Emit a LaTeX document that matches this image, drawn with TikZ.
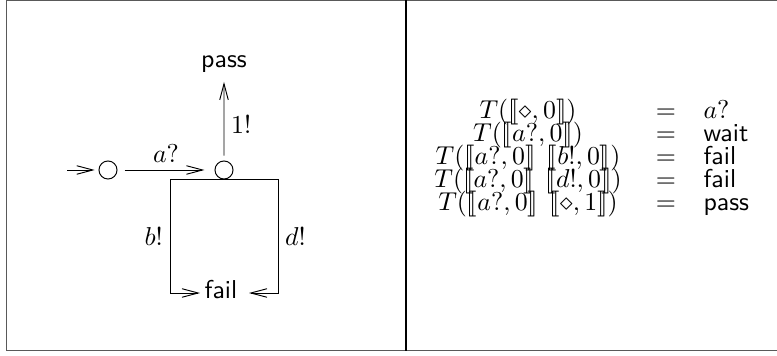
\documentclass[tikz,border=0pt]{standalone}
\usepackage{stmaryrd}
\usetikzlibrary{arrows.meta,calc}
\tikzset{
  state/.style={circle,draw,minimum size=9.5pt,inner sep=0pt,line width=0.5pt},
  arr/.style={-{Straight Barb[length=8.5pt,width=4.5pt]},line width=0.5pt},
  frameline/.style={line width=0.8pt,draw=black!65},
  divline/.style={line width=0.7pt,draw=black},
  txt/.style={scale=1.36,inner sep=2.5pt},
  lhs/.style={txt,anchor=base,inner sep=0pt},
  eqs/.style={txt,anchor=base,inner sep=0pt},
  rhs/.style={txt,anchor=base west,inner sep=0pt},
}
\begin{document}
\begin{tikzpicture}[x=0.5263pt,y=-0.5263pt]
\useasboundingbox (0,0) rectangle (777,356);
% frame
\draw[frameline] (777,0.5) -- (6.5,0.5) -- (6.5,350.5) -- (777,350.5);
\draw[divline] (406,0) -- (406,351);

% automaton
\coordinate (start) at (67,170);
\node[state] (s0) at (108,170) {};
\node[state] (s1) at (224,170) {};
\node[txt,anchor=base] (pass) at (224,68) {\textsf{pass}};
\node[txt,anchor=base,inner sep=0pt] (fail) at (221,299) {\textsf{fail}};
\coordinate (failL) at (200,293);
\coordinate (failR) at (249,293);

\draw[arr,shorten >=2pt] (start) -- (s0);
\draw[arr,shorten <=3.7pt,shorten >=5.3pt] (s0) -- node[txt,above]{$a?$} (s1);
\draw[arr,shorten <=2.6pt,shorten >=1pt] (s1) -- node[txt,pos=0.45,right]{$1!$} (pass);
\draw[arr] (s1.south) -- ++(-54,0) |- node[txt,pos=0.25,left]{$b!$} (failL);
\draw[arr] (s1.south) -- ++(54,0) |- node[txt,pos=0.25,right]{$d!$} (failR);

% equations
\node[lhs] (t1) at (528,119) {$T(\llbracket\diamond,0\rrbracket)$};
\node[eqs] (e1) at (666,119) {$=$};
\node[rhs] (r1) at (703,119) {$a?$};
\node[lhs] (t2) at (528,142) {$T(\llbracket a?,0\rrbracket)$};
\node[eqs] (e2) at (666,142) {$=$};
\node[rhs] (r2) at (703,142) {\textsf{wait}};
\node[lhs] (t3) at (528,165) {$T(\llbracket a?,0\rrbracket\;\,\llbracket b!,0\rrbracket)$};
\node[eqs] (e3) at (666,165) {$=$};
\node[rhs] (r3) at (703,165) {\textsf{fail}};
\node[lhs] (t4) at (528,188) {$T(\llbracket a?,0\rrbracket\;\,\llbracket d!,0\rrbracket)$};
\node[eqs] (e4) at (666,188) {$=$};
\node[rhs] (r4) at (703,188) {\textsf{fail}};
\node[lhs] (t5) at (528,211) {$T(\llbracket a?,0\rrbracket\;\,\llbracket \diamond,1\rrbracket)$};
\node[eqs] (e5) at (666,211) {$=$};
\node[rhs] (r5) at (703,211) {\textsf{pass}};
\end{tikzpicture}
\end{document}
